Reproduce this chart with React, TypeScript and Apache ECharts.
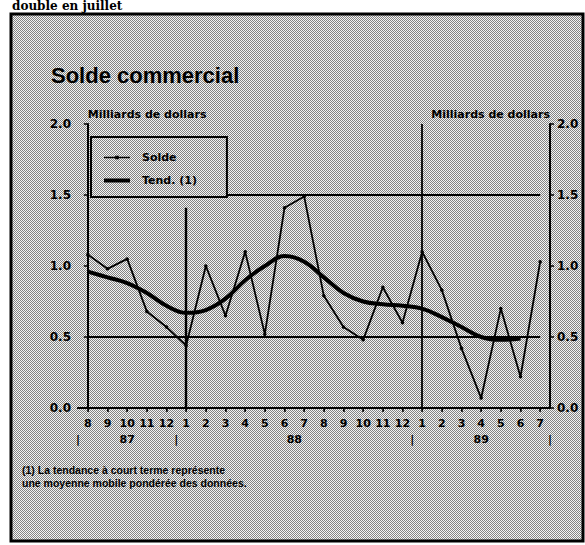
import React, { useEffect, useRef } from "react";
import * as echarts from "echarts";

const months = ["8", "9", "10", "11", "12", "1", "2", "3", "4", "5", "6", "7", "8", "9", "10", "11", "12", "1", "2", "3", "4", "5", "6", "7"];
const solde = [1.08, 0.98, 1.05, 0.68, 0.57, 0.44, 1.0, 0.65, 1.1, 0.52, 1.41, 1.49, 0.79, 0.57, 0.48, 0.85, 0.6, 1.1, 0.83, 0.42, 0.07, 0.7, 0.22, 1.03];
const trend = [0.96, 0.92, 0.88, 0.81, 0.72, 0.67, 0.69, 0.77, 0.9, 1.0, 1.07, 1.03, 0.92, 0.81, 0.75, 0.73, 0.72, 0.7, 0.64, 0.57, 0.5, 0.48, 0.49, null];
const yTicks = [0, 0.5, 1, 1.5, 2];
const yearPositions = [-0.5, 2, 4.5, 10.5, 16.5, 20, 23.5];
const yearLabels = ["|", "87", "|", "88", "|", "89", "|"];
const unitLabel = "Milliards de dollars";
const titleText = "Solde commercial";
const headline = "double en juillet";
const footnote = ["(1) La tendance à court terme représente", "une moyenne mobile pondérée des données."];

function makePattern() {
  const c = document.createElement("canvas");
  c.width = 2;
  c.height = 2;
  const ctx = c.getContext("2d")!;
  ctx.fillStyle = "#f4f4f4";
  ctx.fillRect(0, 0, 2, 2);
  ctx.fillStyle = "#848484";
  ctx.fillRect(0, 0, 1, 1);
  ctx.fillRect(1, 1, 1, 1);
  return { image: c, repeat: "repeat" };
}

export default function App() {
  const ref = useRef<HTMLDivElement>(null);
  useEffect(() => {
    if (!ref.current) return;
    const chart = echarts.init(ref.current, undefined, { renderer: "svg" });
    const pattern: any = makePattern();
    const small = "DejaVu Sans";
    const option: any = {
      animation: false,
      backgroundColor: "#ffffff",
      title: {
        text: titleText,
        left: 46,
        top: 59,
        textStyle: { fontFamily: "Liberation Sans", fontWeight: "bold", fontSize: 22, color: "#000" },
      },
      legend: {
        left: 91,
        top: 137,
        orient: "vertical",
        selectedMode: false,
        padding: [15, 30, 11, 13],
        itemGap: 12,
        itemWidth: 26,
        itemHeight: 14,
        borderColor: "#000",
        borderWidth: 2,
        backgroundColor: pattern,
        textStyle: { fontFamily: small, fontWeight: "bold", fontSize: 11, color: "#000", padding: [0, 0, 0, 7] },
        data: [
          { name: "Solde", icon: "path://M0,0.9 L26,0.9 L26,2.6 L0,2.6 Z M11.2,0 L14.8,0 L14.8,3.5 L11.2,3.5 Z" },
          { name: "Tend. (1)", icon: "path://M0,0 L26,0 L26,4 L0,4 Z" },
        ],
        z: 10,
      },
      grid: { left: 78, right: 35, top: 124, height: 284, containLabel: false },
      xAxis: [
        {
          type: "category",
          data: months,
          boundaryGap: true,
          position: "bottom",
          axisLine: { show: true, lineStyle: { color: "#000", width: 2 } },
          axisTick: { show: true, alignWithLabel: true, length: 4, lineStyle: { color: "#000", width: 1.5 } },
          axisLabel: { interval: 0, margin: 10, fontFamily: small, fontWeight: "bold", fontSize: 11, color: "#000" },
          splitLine: { show: false },
        },
        {
          type: "category",
          data: months,
          boundaryGap: true,
          position: "top",
          axisLine: { show: true, lineStyle: { color: "#000", width: 2 } },
          axisTick: { show: true, inside: true, alignWithLabel: true, length: 3, lineStyle: { color: "#000", width: 1 } },
          axisLabel: { show: false },
          splitLine: { show: false },
        },
        {
          type: "value",
          min: -0.5,
          max: 23.5,
          position: "bottom",
          axisLine: { show: false },
          axisTick: { show: false },
          splitLine: { show: false },
          axisLabel: {
            show: true,
            customValues: yearPositions,
            margin: 26,
            fontFamily: small,
            fontWeight: "bold",
            fontSize: 11,
            color: "#000",
            formatter: (v: number) => {
              let best = 0;
              yearPositions.forEach((p, i) => {
                if (Math.abs(p - v) < Math.abs(yearPositions[best] - v)) best = i;
              });
              return yearLabels[best];
            },
          },
        },
      ],
      yAxis: [0, 1].map((i) => ({
        type: "value",
        position: i === 0 ? "left" : "right",
        min: yTicks[0],
        max: yTicks[yTicks.length - 1],
        interval: 0.5,
        name: unitLabel,
        nameLocation: "end",
        nameGap: 4,
        nameTextStyle: { align: i === 0 ? "left" : "right", fontFamily: small, fontWeight: "bold", fontSize: 11, color: "#000" },
        axisLine: { show: true, lineStyle: { color: "#000", width: 2 } },
        axisTick: { show: true, length: 4, lineStyle: { color: "#000", width: 1.5 } },
        axisLabel: { margin: 7, fontFamily: small, fontWeight: "bold", fontSize: 12, color: "#000", formatter: (v: number) => v.toFixed(1) },
        splitLine: { show: false },
      })),
      series: [
        {
          name: "Solde",
          type: "line",
          data: solde,
          xAxisIndex: 0,
          yAxisIndex: 0,
          color: "#000",
          lineStyle: { width: 1.8, color: "#000" },
          itemStyle: { color: "#000" },
          symbol: "circle",
          symbolSize: 3.5,
          showSymbol: true,
          z: 3,
          markLine: {
            silent: true,
            symbol: ["none", "none"],
            label: { show: false },
            lineStyle: { color: "#000", width: 1.8, type: "solid" },
            data: [
              [{ coord: [0, 0.5] }, { coord: [23, 0.5] }],
              [{ coord: [1, 1.5] }, { coord: [23, 1.5] }],
              [{ coord: [5, 0] }, { coord: [5, 1.41], lineStyle: { width: 2.4 } }],
              [{ coord: [17, 0] }, { coord: [17, 2] }],
            ],
          },
        },
        {
          name: "Tend. (1)",
          type: "line",
          data: trend,
          xAxisIndex: 0,
          yAxisIndex: 0,
          smooth: 0.4,
          color: "#000",
          lineStyle: { width: 4, color: "#000" },
          symbol: "none",
          showSymbol: false,
          z: 4,
        },
      ],
      graphic: [
        {
          type: "rect",
          z: -10,
          shape: { x: 11, y: 14, width: 572, height: 527 },
          style: { fill: pattern, stroke: "#000", lineWidth: 3 },
        },
        {
          type: "text",
          z: 5,
          style: { text: headline, x: 12, y: 6, verticalAlign: "middle", font: 'bold 12px "DejaVu Serif"', fill: "#000" },
        },
        {
          type: "text",
          z: 5,
          style: { text: footnote[0], x: 22, y: 470, verticalAlign: "middle", font: 'bold 10.5px "Liberation Sans"', fill: "#000" },
        },
        {
          type: "text",
          z: 5,
          style: { text: footnote[1], x: 22, y: 483, verticalAlign: "middle", font: 'bold 10.5px "Liberation Sans"', fill: "#000" },
        },
      ],
    };
    chart.setOption(option);
    return () => chart.dispose();
  }, []);
  return (
    <div
      ref={ref}
      style={{ position: "absolute", left: 0, top: 0, width: 585, height: 545, background: "#fff" }}
    />
  );
}
